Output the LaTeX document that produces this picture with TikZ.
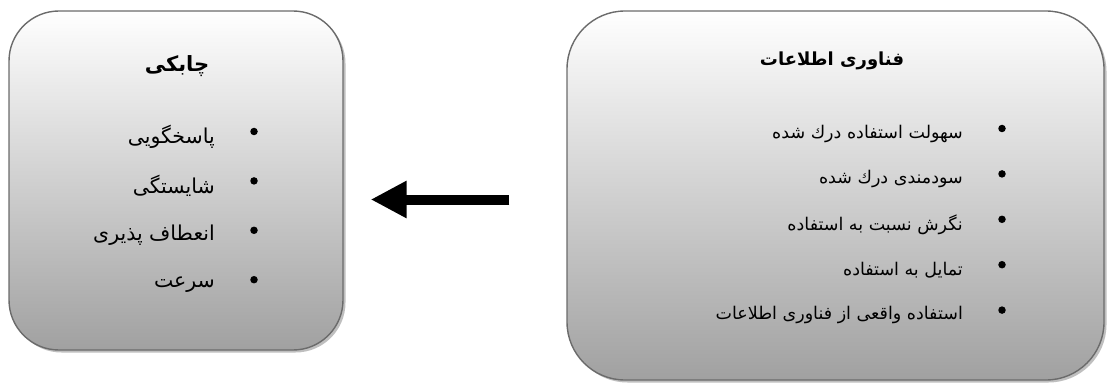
\documentclass[tikz,border=0pt]{standalone}
\usepackage{fontspec}
\newfontfamily\arabicfont[Script=Arabic]{DejaVu Sans}
\TeXXeTstate=1
\usetikzlibrary{positioning, arrows.meta, shadows}

\begin{document}
\begin{tikzpicture}[x=1pt, y=-1pt,
			panel/.style={draw=black!58, line width=1.4pt, rounded corners=50pt, top color=white, bottom color=black!37,
				drop shadow={shadow xshift=2.5pt, shadow yshift=-2.5pt, fill=black!25, opacity=1}},
			head/.style={font=\arabicfont\bfseries\fontsize{18}{21}\selectfont, inner sep=0pt},
			item/.style={font=\arabicfont\fontsize{17.5}{20}\selectfont, inner sep=0pt, yshift=-5pt},
			bigitem/.style={item, font=\arabicfont\fontsize{20.5}{23}\selectfont},
			dot/.style={circle, fill=black, inner sep=0pt, minimum size=7.5pt},
			bigarrow/.style={line width=10pt, -{Triangle[length=36pt, width=35pt]}}]
			\useasboundingbox (0,0) rectangle (1108,385);
			% left panel
			\node[panel, minimum width=334pt, minimum height=339pt] (agbox) at (176,180.5) {};
			\node[head, font=\arabicfont\bfseries\fontsize{21}{24}\selectfont] (agtitle) at (177,66) {\beginR چابکی\endR};
			\node[dot] (agdot1) at (254,131.5) {};
			\node[dot, below=41.5pt of agdot1] (agdot2) {};
			\node[dot, below=41.5pt of agdot2] (agdot3) {};
			\node[dot, below=41.5pt of agdot3] (agdot4) {};
			\node[bigitem, left=35pt of agdot1] (ag1) {\beginR پاسخگویی\endR};
			\node[bigitem, left=35pt of agdot2] (ag2) {\beginR شایستگی\endR};
			\node[bigitem, left=35pt of agdot3] (ag3) {\beginR انعطاف پذیری\endR};
			\node[bigitem, left=35pt of agdot4] (ag4) {\beginR سرعت\endR};
			% right panel
			\node[panel, rounded corners=58pt, minimum width=537pt, minimum height=369pt] (itbox) at (835.5,195.5) {};
			\node[head] (ittitle) at (832,61) {\beginR فناوری اطلاعات\endR};
			\node[dot] (itdot1) at (1002,128.5) {};
			\node[dot, below=37.5pt of itdot1] (itdot2) {};
			\node[dot, below=37.5pt of itdot2] (itdot3) {};
			\node[dot, below=37.5pt of itdot3] (itdot4) {};
			\node[dot, below=37.5pt of itdot4] (itdot5) {};
			\node[item, left=35pt of itdot1] (it1) {\beginR سهولت استفاده درك شده\endR};
			\node[item, left=35pt of itdot2] (it2) {\beginR سودمندی درك شده\endR};
			\node[item, left=35pt of itdot3] (it3) {\beginR نگرش نسبت به استفاده\endR};
			\node[item, left=35pt of itdot4] (it4) {\beginR تمایل به استفاده\endR};
			\node[item, left=35pt of itdot5] (it5) {\beginR استفاده واقعی از فناوری اطلاعات\endR};
			% link
			\draw[bigarrow, shorten <=57pt, shorten >=27pt] ([yshift=-4pt]itbox.west) -- ([yshift=-4pt]itbox.west -| agbox.east);
		\end{tikzpicture}
\end{document}
